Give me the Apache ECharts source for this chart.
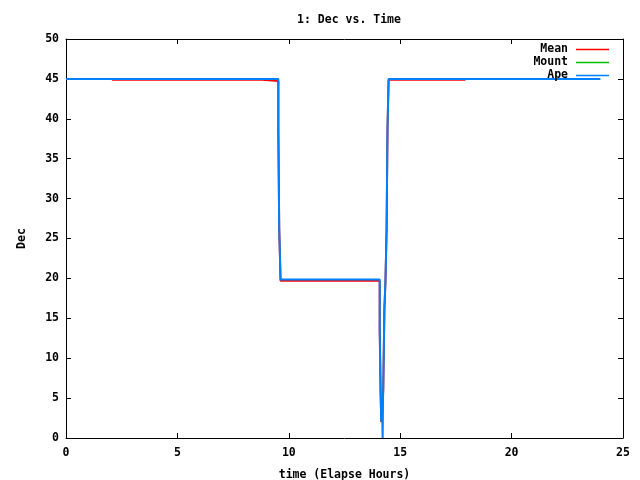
<!DOCTYPE html>
<html>
<head>
<meta charset="utf-8">
<script src="https://cdn.jsdelivr.net/npm/echarts@6/dist/echarts.min.js"></script>
<style>html,body{margin:0;padding:0;background:#fff}#c{width:640px;height:480px}</style>
</head>
<body>
<div id="c"></div>
<script>
// Time (elapsed hours) and Dec values, step style (value holds from its time to the next)
const meanT   = [2.06, 8.81, 9.53, 9.57, 9.63, 14.08, 14.12, 14.15, 14.19, 14.24, 14.29, 14.34, 14.39, 14.43, 14.48, 17.92];
const meanDec = [44.88, 44.75, 38.7, 26.2, 19.72, 13.7, 5.7, 2.0, 3.2, 6.2, 16.0, 19.72, 26.2, 38.7, 44.88, 44.88];

const mountT   = [0, 9.53, 9.57, 9.63, 14.08, 14.12, 14.15, 14.16, 14.17, 14.19, 14.21, 14.23, 14.24, 14.29, 14.34, 14.39, 14.43, 14.48, 23.98];
const mountDec = [45.0, 38.8, 26.3, 19.85, 13.8, 5.8, 2.1, 4.6, 2.4, 4.2, 0, 5.0, 6.3, 16.1, 19.85, 26.3, 38.8, 45.0, 45.0];

const apeT   = [0, 9.53, 9.57, 9.63, 14.08, 14.12, 14.15, 14.16, 14.17, 14.19, 14.21, 14.23, 14.24, 14.29, 14.34, 14.39, 14.43, 14.48, 23.98];
const apeDec = [45.0, 38.8, 26.3, 19.85, 13.8, 5.8, 2.1, 4.6, 2.4, 4.2, 0, 5.0, 6.3, 16.1, 19.85, 26.3, 38.8, 45.0, 45.0];

const seriesNames = ['Mean', 'Mount', 'Ape'];
const seriesColors = ['#ff0000', '#00c000', '#0080ff'];
const xTicks = [0, 5, 10, 15, 20, 25];
const yTicks = [0, 5, 10, 15, 20, 25, 30, 35, 40, 45, 50];

const zip = (a, b) => a.map((v, i) => [v, b[i]]);
const FONT = 'DejaVu Sans Mono';
const txt = {fontFamily: FONT, fontWeight: 'bold', fontSize: 11.5, color: '#000'};

const chart = echarts.init(document.getElementById('c'), null, {renderer: 'canvas'});
const axLine = {show: true, onZero: false, lineStyle: {color: '#000', width: 1}};
const tick = {show: true, inside: true, length: 5, lineStyle: {color: '#000', width: 1}};

chart.setOption({
  animation: false,
  backgroundColor: '#fff',
  title: {text: '1: Dec vs. Time', top: 9, left: 344, textAlign: 'center', textStyle: Object.assign({}, txt)},
  grid: {left: 66, right: 17, top: 39, bottom: 42, containLabel: false, outerBoundsMode: 'none'},
  legend: {
    data: seriesNames, orient: 'vertical', right: 26, top: 38, align: 'right',
    icon: 'rect', itemWidth: 33, itemHeight: 1.5, itemGap: 0,
    textStyle: Object.assign({}, txt, {lineHeight: 13, padding: [0, 3, 0, 0]})
  },
  xAxis: [
    {type: 'value', position: 'bottom', min: xTicks[0], max: xTicks[xTicks.length - 1], interval: 5,
     name: 'time (Elapse Hours)', nameLocation: 'middle', nameGap: 31, nameTextStyle: txt,
     axisLine: axLine, axisTick: tick, splitLine: {show: false},
     axisLabel: Object.assign({margin: 9}, txt)},
    {type: 'value', position: 'top', min: 0, max: 25, interval: 5,
     axisLine: axLine, axisTick: tick, axisLabel: {show: false}, splitLine: {show: false}}
  ],
  yAxis: [
    {type: 'value', position: 'left', min: yTicks[0], max: yTicks[yTicks.length - 1], interval: 5,
     name: 'Dec', nameLocation: 'middle', nameGap: 38, nameRotate: 90, nameTextStyle: txt,
     axisLine: axLine, axisTick: tick, splitLine: {show: false},
     axisLabel: Object.assign({margin: 7}, txt)},
    {type: 'value', position: 'right', min: 0, max: 50, interval: 5,
     axisLine: axLine, axisTick: tick, axisLabel: {show: false}, splitLine: {show: false}}
  ],
  series: [
    {name: 'Mean', type: 'line', step: 'end', data: zip(meanT, meanDec), showSymbol: false,
     color: seriesColors[0], lineStyle: {width: 2, color: seriesColors[0]}},
    {name: 'Mount', type: 'line', step: 'end', data: zip(mountT, mountDec), showSymbol: false,
     color: seriesColors[1], lineStyle: {width: 1, color: seriesColors[1]}},
    {name: 'Ape', type: 'line', step: 'end', data: zip(apeT, apeDec), showSymbol: false,
     color: seriesColors[2], lineStyle: {width: 2, color: seriesColors[2]}}
  ]
});
</script>
</body>
</html>
